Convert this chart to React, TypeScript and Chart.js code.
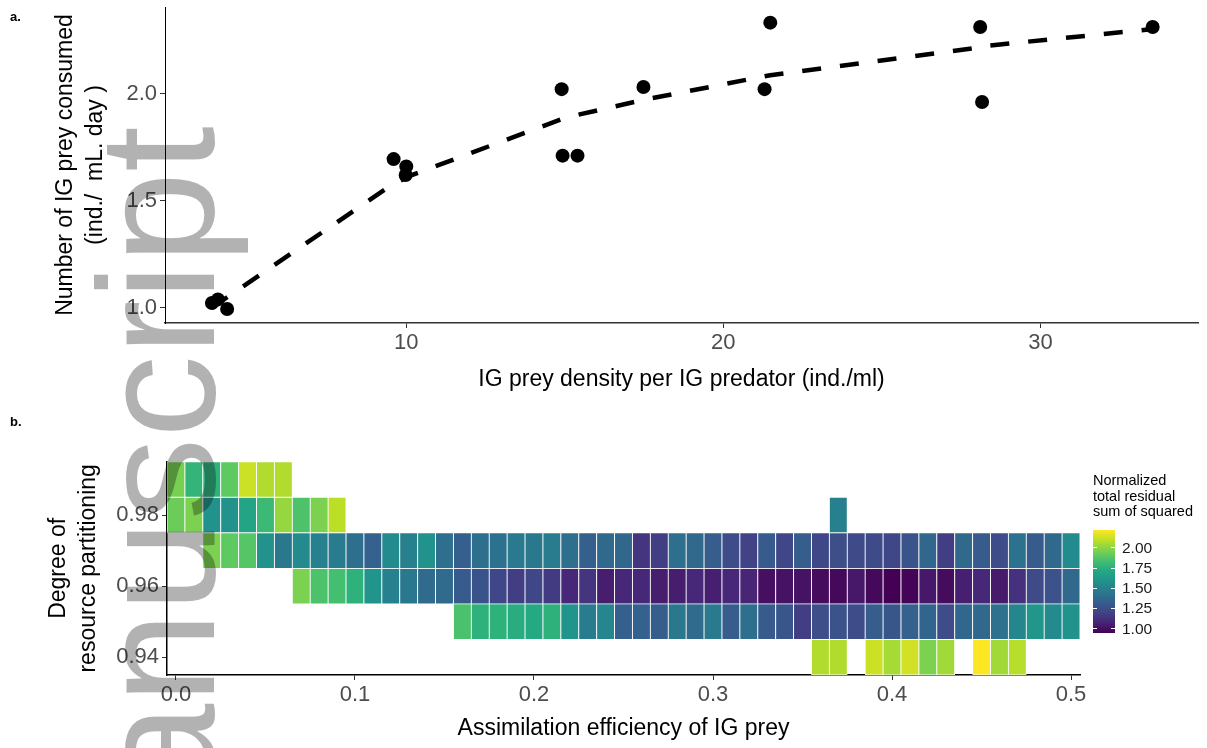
import React, { useEffect, useRef } from "react";
import { Chart, registerables } from "chart.js";

Chart.register(...registerables);

const FONT = "'Liberation Sans', Arial, Helvetica, sans-serif";
const _ = null;

// ---------- Panel a ----------
const preyDensity = [3.87, 4.06, 4.35, 9.6, 9.98, 10.0, 14.9, 14.93, 15.4, 17.48, 21.3, 21.48, 28.1, 28.16, 33.54];
const preyConsumed = [1.023, 1.04, 0.995, 1.694, 1.62, 1.66, 2.02, 1.71, 1.71, 2.03, 2.02, 2.33, 2.31, 1.96, 2.31];
const fittedConsumed = [1.0, 1.02, 1.05, 1.58, 1.605, 1.61, 1.88, 1.88, 1.9, 1.97, 2.08, 2.085, 2.215, 2.22, 2.3];
const topXTicks = [10, 20, 30];
const topYTicks = [1.0, 1.5, 2.0];

// ---------- Panel b ----------
const efficiency = [
  0.0, 0.01, 0.02, 0.03, 0.04, 0.05, 0.06, 0.07, 0.08, 0.09,
  0.1, 0.11, 0.12, 0.13, 0.14, 0.15, 0.16, 0.17, 0.18, 0.19,
  0.2, 0.21, 0.22, 0.23, 0.24, 0.25, 0.26, 0.27, 0.28, 0.29,
  0.3, 0.31, 0.32, 0.33, 0.34, 0.35, 0.36, 0.37, 0.38, 0.39,
  0.4, 0.41, 0.42, 0.43, 0.44, 0.45, 0.46, 0.47, 0.48, 0.49, 0.5,
];
const partitioning = [0.99, 0.98, 0.97, 0.96, 0.95, 0.94];

const rss099 = [
  1.96, 1.78, 1.76, 1.9, 2.12, 2.07, 2.07, _, _, _,
  _, _, _, _, _, _, _, _, _, _,
  _, _, _, _, _, _, _, _, _, _,
  _, _, _, _, _, _, _, _, _, _,
  _, _, _, _, _, _, _, _, _, _, _,
];
const rss098 = [
  1.93, 1.97, 1.59, 1.59, 1.69, 1.81, 2.02, 1.86, 1.97, 2.09,
  _, _, _, _, _, _, _, _, _, _,
  _, _, _, _, _, _, _, _, _, _,
  _, _, _, _, _, _, _, 1.5, _, _,
  _, _, _, _, _, _, _, _, _, _, _,
];
const rss097 = [
  _, _, 1.97, 1.9, 1.88, 1.59, 1.46, 1.55, 1.5, 1.48,
  1.41, 1.34, 1.55, 1.5, 1.59, 1.41, 1.33, 1.41, 1.43, 1.47,
  1.46, 1.48, 1.41, 1.33, 1.38, 1.37, 1.14, 1.18, 1.41, 1.38,
  1.32, 1.24, 1.2, 1.31, 1.22, 1.32, 1.22, 1.25, 1.23, 1.23,
  1.22, 1.28, 1.37, 1.18, 1.38, 1.31, 1.24, 1.43, 1.31, 1.38, 1.55,
];
const rss096 = [
  _, _, _, _, _, _, _, 1.97, 1.86, 1.84,
  1.76, 1.6, 1.5, 1.46, 1.39, 1.39, 1.31, 1.28, 1.22, 1.18,
  1.22, 1.17, 1.09, 1.14, 1.05, 1.09, 1.09, 1.05, 1.05, 1.09,
  1.06, 1.09, 1.08, 1.0, 1.01, 1.01, 0.99, 0.98, 1.03, 0.98,
  0.95, 0.96, 1.03, 0.99, 1.06, 1.09, 1.04, 1.13, 1.23, 1.27, 1.38,
];
const rss095 = [
  _, _, _, _, _, _, _, _, _, _,
  _, _, _, _, _, _, 1.85, 1.76, 1.76, 1.74,
  1.72, 1.76, 1.6, 1.48, 1.53, 1.33, 1.34, 1.32, 1.46, 1.39,
  1.47, 1.32, 1.41, 1.31, 1.29, 1.18, 1.25, 1.27, 1.24, 1.32,
  1.29, 1.34, 1.36, 1.24, 1.37, 1.38, 1.42, 1.53, 1.61, 1.55, 1.59,
];
const rss094 = [
  _, _, _, _, _, _, _, _, _, _,
  _, _, _, _, _, _, _, _, _, _,
  _, _, _, _, _, _, _, _, _, _,
  _, _, _, _, _, _, 2.07, 2.07, _, 2.12,
  2.05, 2.13, 1.97, 2.04, _, 2.22, 2.04, 2.08, _, _, _,
];
const rssRows = [rss099, rss098, rss097, rss096, rss095, rss094];
const bottomXTicks = [0.0, 0.1, 0.2, 0.3, 0.4, 0.5];
const bottomYTicks = [0.94, 0.96, 0.98];
const legendTicks = [1.0, 1.25, 1.5, 1.75, 2.0];

const VIRIDIS = ["#440154", "#482475", "#414487", "#355f8d", "#2a788e", "#21918c", "#22a884", "#44bf70", "#7ad151", "#bddf26", "#fde725"];

const allVals = rssRows.flat().filter((v) => v != null) as number[];
const colorMin = Math.min(...allVals);
const colorMax = Math.max(...allVals);

function hexToRgb(h: string) {
  return [parseInt(h.slice(1, 3), 16), parseInt(h.slice(3, 5), 16), parseInt(h.slice(5, 7), 16)];
}
function viridis(v: number) {
  let t = (v - colorMin) / (colorMax - colorMin);
  t = Math.max(0, Math.min(1, t));
  const pos = t * (VIRIDIS.length - 1);
  const i = Math.min(Math.floor(pos), VIRIDIS.length - 2);
  const f = pos - i;
  const a = hexToRgb(VIRIDIS[i]);
  const b = hexToRgb(VIRIDIS[i + 1]);
  const c = a.map((x, k) => Math.round(x + (b[k] - x) * f));
  return `rgb(${c[0]},${c[1]},${c[2]})`;
}

const TICK_COLOR = "#4d4d4d";
const TITLE_FONT = { family: FONT, size: 23, lineHeight: 1.3 };
const TICK_FONT = { family: FONT, size: 22 };

function zeroPad(s: any) {
  s.paddingTop = 0;
  s.paddingBottom = 0;
  s.paddingLeft = 0;
  s.paddingRight = 0;
}

// Legend geometry
const LEG_TOP = 530;
const LEG_H = 102.7;
const legY = (v: number) => LEG_TOP + LEG_H - ((v - colorMin) / (colorMax - colorMin)) * LEG_H;

export default function App() {
  const topRef = useRef<HTMLCanvasElement>(null);
  const botRef = useRef<HTMLCanvasElement>(null);

  useEffect(() => {
    Chart.defaults.font.family = FONT;
    const c1 = new Chart(topRef.current as HTMLCanvasElement, {
      type: "scatter",
      data: {
        datasets: [
          {
            type: "scatter",
            data: preyDensity.map((x, i) => ({ x, y: fittedConsumed[i] })),
            showLine: true,
            borderColor: "#000",
            borderWidth: 4.5,
            borderDash: [19, 19],
            pointRadius: 0,
            fill: false,
            tension: 0,
            order: 2,
          } as any,
          {
            type: "scatter",
            data: preyDensity.map((x, i) => ({ x, y: preyConsumed[i] })),
            pointRadius: 7,
            backgroundColor: "#000",
            borderWidth: 0,
            order: 1,
          },
        ],
      },
      options: {
        animation: false,
        responsive: false,
        events: [],
        layout: { padding: { top: 5, right: 9, left: 0, bottom: 0 } },
        plugins: { legend: { display: false }, tooltip: { enabled: false } },
        scales: {
          x: {
            type: "linear",
            min: 2.39,
            max: 34.97,
            afterBuildTicks: (s: any) => {
              s.ticks = topXTicks.map((value) => ({ value }));
            },
            afterFit: (s: any) => {
              s.height = 77;
              zeroPad(s);
            },
            ticks: { color: TICK_COLOR, font: TICK_FONT, padding: 2, callback: (v: any) => String(v) },
            grid: { drawOnChartArea: false, drawTicks: true, tickLength: 5, color: "#333" },
            border: { display: true, color: "#333", width: 1.5 },
            title: {
              display: true,
              text: "IG prey density per IG predator (ind./ml)",
              color: "#000",
              font: TITLE_FONT,
              padding: { top: 0, bottom: 5 },
            },
          },
          y: {
            type: "linear",
            min: 0.93,
            max: 2.403,
            afterBuildTicks: (s: any) => {
              s.ticks = topYTicks.map((value) => ({ value }));
            },
            afterFit: (s: any) => {
              s.width = 165;
              zeroPad(s);
            },
            ticks: { color: TICK_COLOR, font: TICK_FONT, padding: 3, callback: (v: any) => Number(v).toFixed(1) },
            grid: { drawOnChartArea: false, drawTicks: true, tickLength: 5, color: "#333" },
            border: { display: true, color: "#000", width: 1 },
            title: {
              display: true,
              text: ["Number of IG prey consumed", "(ind./  mL. day )"],
              color: "#000",
              font: TITLE_FONT,
              padding: { top: 51, bottom: 0 },
            },
          },
        },
      },
    });

    const datasets = partitioning.map((p, r) => ({
      type: "bar",
      data: efficiency
        .map((x, i) => (rssRows[r][i] == null ? null : { x, y: [p - 0.005, p + 0.005], v: rssRows[r][i] }))
        .filter((d) => d != null),
      backgroundColor: (ctx: any) => (ctx.raw ? viridis(ctx.raw.v) : "#fff"),
      borderColor: "#ffffff",
      borderWidth: 0.8,
      borderSkipped: false,
      barPercentage: 1,
      categoryPercentage: 1,
      grouped: false,
    }));

    const c2 = new Chart(botRef.current as HTMLCanvasElement, {
      type: "bar",
      data: { datasets: datasets as any },
      options: {
        animation: false,
        responsive: false,
        events: [],
        layout: { padding: { top: 61.7, right: 127, left: 0, bottom: 0 } },
        plugins: { legend: { display: false }, tooltip: { enabled: false } },
        scales: {
          x: {
            type: "linear",
            min: -0.005,
            max: 0.505,
            offset: false,
            afterBuildTicks: (s: any) => {
              s.ticks = bottomXTicks.map((value) => ({ value }));
            },
            afterFit: (s: any) => {
              s.height = 73;
              zeroPad(s);
            },
            ticks: { color: TICK_COLOR, font: TICK_FONT, padding: 2, callback: (v: any) => Number(v).toFixed(1) },
            grid: { offset: false, drawOnChartArea: false, drawTicks: true, tickLength: 5, color: "#333" },
            border: { display: true, color: "#000", width: 1.5 },
            title: {
              display: true,
              text: "Assimilation efficiency of IG prey",
              color: "#000",
              font: TITLE_FONT,
              padding: { top: 0, bottom: 4 },
            },
          },
          y: {
            type: "linear",
            min: 0.935,
            max: 0.995,
            afterBuildTicks: (s: any) => {
              s.ticks = bottomYTicks.map((value) => ({ value }));
            },
            afterFit: (s: any) => {
              s.width = 167;
              zeroPad(s);
            },
            ticks: { color: TICK_COLOR, font: TICK_FONT, padding: 3, callback: (v: any) => Number(v).toFixed(2) },
            grid: { drawOnChartArea: false, drawTicks: true, tickLength: 5, color: "#333" },
            border: { display: true, color: "#000", width: 1.5 },
            title: {
              display: true,
              text: ["Degree of", "resource partitioning"],
              color: "#000",
              font: TITLE_FONT,
              padding: { top: 43.5, bottom: 0 },
            },
          },
        },
      },
    });

    return () => {
      c1.destroy();
      c2.destroy();
    };
  }, []);

  const gradient =
    "linear-gradient(to top, " + VIRIDIS.map((c, i) => `${c} ${(i / (VIRIDIS.length - 1)) * 100}%`).join(", ") + ")";

  return (
    <div
      style={{
        position: "fixed",
        left: 0,
        top: 0,
        width: 1207,
        height: 748,
        overflow: "hidden",
        background: "#fff",
        fontFamily: FONT,
      }}
    >
      <canvas ref={topRef} width={1207} height={400} style={{ position: "absolute", left: 0, top: 0 }} />
      <canvas ref={botRef} width={1207} height={348} style={{ position: "absolute", left: 0, top: 400 }} />

      <div style={{ position: "absolute", left: 10, top: 9, fontSize: 13, fontWeight: "bold", color: "#000" }}>a.</div>
      <div style={{ position: "absolute", left: 10, top: 414, fontSize: 13, fontWeight: "bold", color: "#000" }}>b.</div>

      {/* colour legend */}
      <div
        style={{
          position: "absolute",
          left: 1093,
          top: 473,
          fontSize: 14.5,
          lineHeight: "15.6px",
          color: "#000",
          whiteSpace: "nowrap",
        }}
      >
        Normalized
        <br />
        total residual
        <br />
        sum of squared
      </div>
      <div style={{ position: "absolute", left: 1093, top: LEG_TOP, width: 22, height: LEG_H, background: gradient }} />
      {legendTicks.map((v) => (
        <React.Fragment key={v}>
          <div style={{ position: "absolute", left: 1093, top: legY(v) - 0.5, width: 4, height: 1, background: "#fff" }} />
          <div style={{ position: "absolute", left: 1111, top: legY(v) - 0.5, width: 4, height: 1, background: "#fff" }} />
          <div
            style={{
              position: "absolute",
              left: 1122,
              top: legY(v) - 9,
              height: 18,
              lineHeight: "18px",
              fontSize: 15.5,
              color: "#1a1a1a",
            }}
          >
            {v.toFixed(2)}
          </div>
        </React.Fragment>
      ))}

      {/* watermark */}
      <div
        style={{
          position: "absolute",
          left: 75,
          top: 933,
          fontSize: 165,
          lineHeight: "165px",
          color: "rgba(0,0,0,0.3)",
          whiteSpace: "nowrap",
          transformOrigin: "0 0",
          transform: "rotate(-90deg)",
          pointerEvents: "none",
        }}
      >
        Manuscript
      </div>
    </div>
  );
}
